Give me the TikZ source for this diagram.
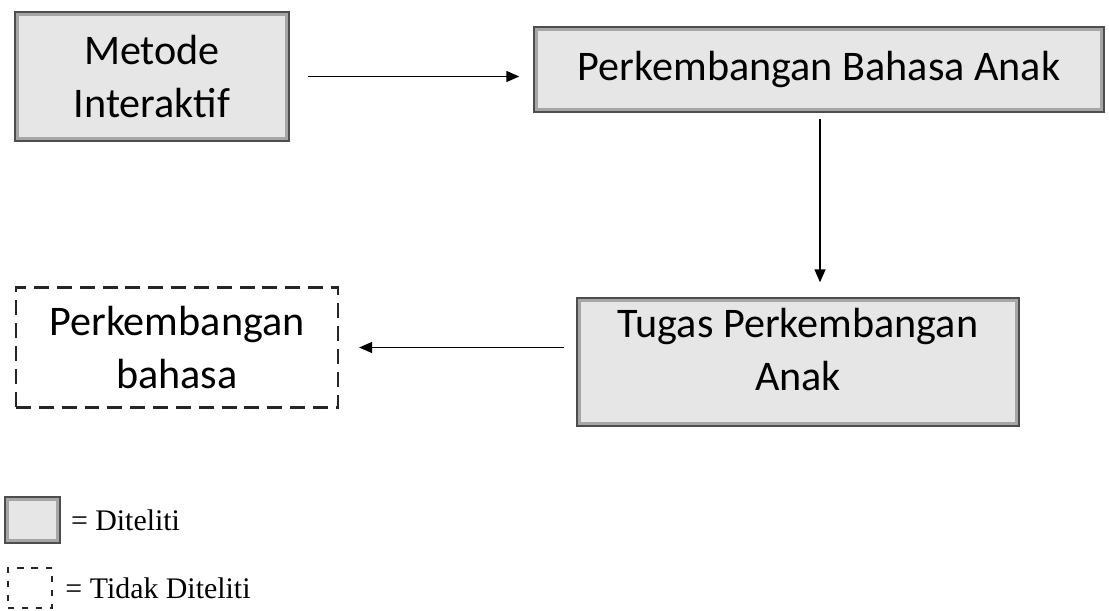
\documentclass[tikz,border=0pt]{standalone}
\usepackage{fontspec}
\setmainfont{Carlito}
\newfontfamily\legendfont{Liberation Serif}
\usepackage{tikz}
\usetikzlibrary{
  arrows.meta,
  positioning,
  calc
}
\definecolor{fwFill}{HTML}{E6E6E6}
\definecolor{fwEdge}{HTML}{4D4D4D}
\definecolor{fwBevel}{HTML}{A6A6A6}
\tikzset{
  fwnode/.style={
    rectangle, minimum height=8mm, minimum width=18mm,
    font=\fontsize{24}{30}\selectfont, align=center, inner sep=0pt
  },
  fwbox/.style={fwnode, fill=fwFill, draw=fwEdge, line width=0.8pt,
    path picture={\draw[fwBevel, line width=5pt]
      (path picture bounding box.south west) rectangle (path picture bounding box.north east);}
  },
  fwdash/.style={fwnode, draw=black!85, line width=1.3pt, dash pattern=on 8.5pt off 4.5pt},
  flow/.style={-{Triangle[length=2.6mm, width=2.2mm]}, line width=0.8pt, black},
  legendtag/.style={font=\legendfont\fontsize{17}{20}\selectfont, inner sep=0pt, anchor=west}
}
\begin{document}
\begin{tikzpicture}
  \useasboundingbox (0,0) rectangle (22.18,-12.2);
  % framework boxes
  \node[fwbox, minimum width=54.8mm, minimum height=25.8mm] (metode) at (3.04,-1.53) {Metode\\Interaktif};
  \node[fwbox, minimum width=114mm, minimum height=17mm] (bahasa) at (16.38,-1.39) {Perkembangan Bahasa Anak};
  \node[fwbox, minimum width=88.4mm, minimum height=25.6mm] (tugas) at (15.96,-7.24) {Tugas Perkembangan\\Anak\\[-16pt]\mbox{}};
  \node[fwdash, minimum width=64.4mm, minimum height=24mm] (tidak) at (3.54,-6.95) {Perkembangan\\bahasa};
  % connectors
  \draw[flow, shorten <=3.6mm, shorten >=2.8mm] (metode.east) -- (metode.east -| bahasa.west);
  \draw[flow, shorten <=1.2mm, shorten >=3mm] ($(bahasa.south)+(0.02,0)$) -- ($(bahasa.south |- tugas.north)+(0.02,0)$);
  \draw[flow, shorten <=2.4mm, shorten >=4mm] (tidak.east -| tugas.west) -- (tidak.east);
  % legend
  \node[fwbox, minimum width=11mm, minimum height=9.2mm] (keyA) at (0.65,-10.4) {};
  \node[legendtag, right=2mm of keyA] (keyAtext) {= Diteliti};
  \node[fwdash, minimum width=8.8mm, minimum height=8mm, dash pattern=on 3.5pt off 4.5pt] (keyB) at (0.6,-11.76) {};
  \node[legendtag, right=2.4mm of keyB] (keyBtext) {= Tidak Diteliti};
\end{tikzpicture}
\end{document}
